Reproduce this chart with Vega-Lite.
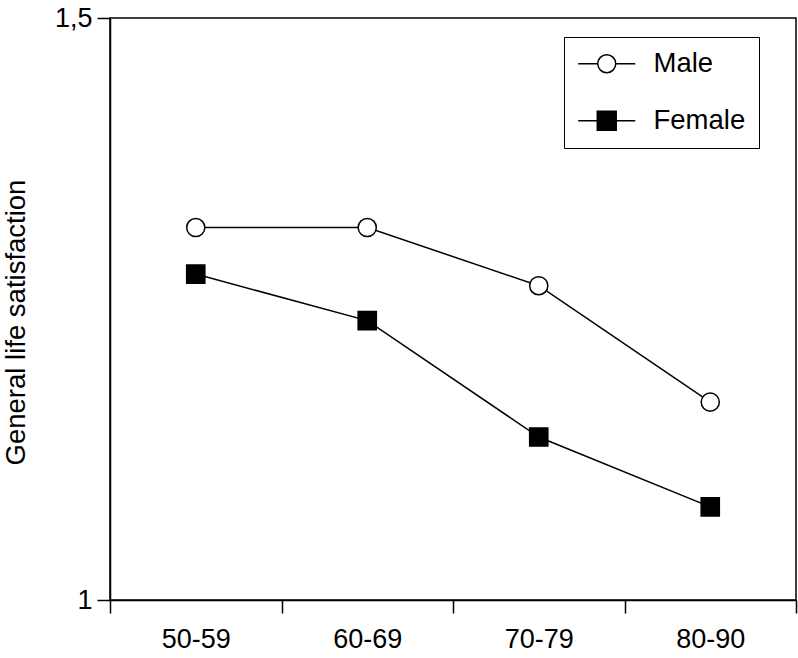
{
  "$schema": "https://vega.github.io/schema/vega-lite/v6.json",
  "width": 686,
  "height": 582,
  "autosize": "none",
  "padding": {"left": 110, "top": 18, "right": 2, "bottom": 58},
  "background": "white",
  "config": {
    "font": "Liberation Sans",
    "view": {"stroke": "black", "strokeWidth": 1.5},
    "axis": {"domainColor": "black", "tickColor": "black", "labelColor": "black", "titleColor": "black", "domainWidth": 1.5, "tickWidth": 1.5, "grid": false},
    "legend": {"symbolStrokeWidth": 1.5}
  },
  "data": {
    "values": [
      {"age": "50-59", "sex": "Male", "satisfaction": 1.32},
      {"age": "60-69", "sex": "Male", "satisfaction": 1.32},
      {"age": "70-79", "sex": "Male", "satisfaction": 1.27},
      {"age": "80-90", "sex": "Male", "satisfaction": 1.17},
      {"age": "50-59", "sex": "Female", "satisfaction": 1.28},
      {"age": "60-69", "sex": "Female", "satisfaction": 1.24},
      {"age": "70-79", "sex": "Female", "satisfaction": 1.14},
      {"age": "80-90", "sex": "Female", "satisfaction": 1.08}
    ]
  },
  "encoding": {
    "x": {
      "field": "age", "type": "nominal", "sort": null,
      "scale": {"type": "band", "paddingInner": 0, "paddingOuter": 0},
      "axis": {"title": null, "labelAngle": 0, "labelFontSize": 27, "labelPadding": 13, "tickSize": 13, "tickBand": "extent"}
    },
    "y": {
      "field": "satisfaction", "type": "quantitative",
      "scale": {"domain": [1, 1.5], "nice": false, "zero": false},
      "axis": {"title": "General life satisfaction", "titleFontSize": 27.5, "titleFontWeight": "normal", "titlePadding": 24, "titleY": 304, "values": [1, 1.5], "labelExpr": "replace(format(datum.value, ''), '.', ',')", "labelFontSize": 27, "labelPadding": 5, "tickSize": 13}
    }
  },
  "layer": [
    {
      "mark": {"type": "line", "color": "black", "strokeWidth": 1.5},
      "encoding": {"detail": {"field": "sex"}}
    },
    {
      "transform": [{"filter": "datum.sex == 'Male'"}],
      "mark": {"type": "point", "shape": "circle", "filled": true, "fill": "white", "stroke": "black", "strokeWidth": 1.5, "size": 330, "opacity": 1},
      "encoding": {}
    },
    {
      "transform": [{"filter": "datum.sex == 'Female'"}],
      "mark": {"type": "point", "shape": "square", "filled": true, "fill": "black", "stroke": "black", "strokeWidth": 1.5, "size": 330, "opacity": 1},
      "encoding": {}
    },
    {
      "transform": [{"filter": "false"}],
      "mark": {"type": "point", "filled": false, "strokeWidth": 1.5, "size": 324, "opacity": 1},
      "encoding": {
        "shape": {
          "field": "sex", "type": "nominal",
          "scale": {"domain": ["Male", "Female"], "range": ["M-3.17,0 L-1,0 M1,0 L3.17,0 M1,0 A1,1 0 1,1 -1,0 A1,1 0 1,1 1,0 Z", "M-3.17,0 L-1.05,0 M1.05,0 L3.17,0 M-1.05,-1.05 L1.05,-1.05 L1.05,1.05 L-1.05,1.05 Z"]},
          "legend": {
            "title": null, "orient": "none", "legendX": 454, "legendY": 19,
            "strokeColor": "black", "padding": 13,
            "labelFontSize": 27.5, "labelColor": "black", "labelFont": "Liberation Sans",
            "symbolSize": 324, "symbolOffset": 16, "labelOffset": 33, "rowPadding": 28,
            "symbolStrokeWidth": 1.5, "symbolOpacity": 1
          }
        },
        "fill": {
          "field": "sex", "type": "nominal",
          "scale": {"domain": ["Male", "Female"], "range": ["white", "black"]},
          "legend": {
            "title": null, "orient": "none", "legendX": 454, "legendY": 19,
            "strokeColor": "black", "padding": 13,
            "labelFontSize": 27.5, "labelColor": "black", "labelFont": "Liberation Sans",
            "symbolSize": 324, "symbolOffset": 16, "labelOffset": 33, "rowPadding": 28,
            "symbolStrokeWidth": 1.5, "symbolOpacity": 1
          }
        },
        "stroke": {
          "field": "sex", "type": "nominal",
          "scale": {"domain": ["Male", "Female"], "range": ["black", "black"]},
          "legend": {
            "title": null, "orient": "none", "legendX": 454, "legendY": 19,
            "strokeColor": "black", "padding": 13,
            "labelFontSize": 27.5, "labelColor": "black", "labelFont": "Liberation Sans",
            "symbolSize": 324, "symbolOffset": 16, "labelOffset": 33, "rowPadding": 28,
            "symbolStrokeWidth": 1.5, "symbolOpacity": 1
          }
        }
      }
    }
  ]
}
